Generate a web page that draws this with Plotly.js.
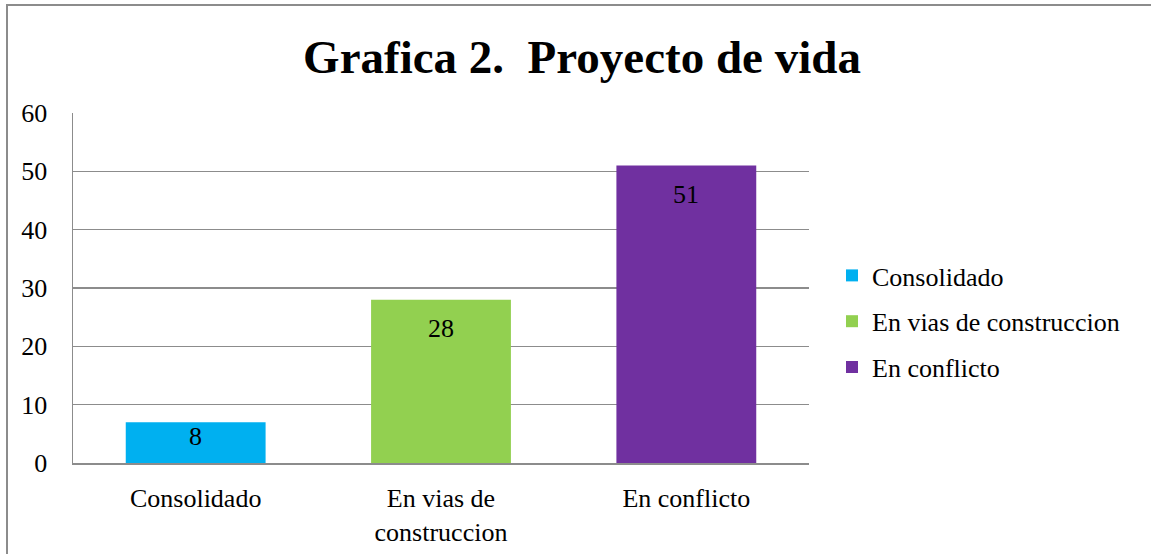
<!DOCTYPE html>
<html>
<head>
<meta charset="utf-8">
<script src="https://cdn.plot.ly/plotly-3.0.1.min.js"></script>
<style>html,body{margin:0;padding:0;background:#fff;}#chart{width:1151px;height:554px;}</style>
</head>
<body>
<div id="chart"></div>
<script>
var categories = ['Consolidado', 'En vias de<br>construccion', 'En conflicto'];
var seriesNames = ['Consolidado', 'En vias de construccion', 'En conflicto'];
var values = [7, 28, 51];
var dataLabels = ['8', '28', '51'];
var colors = ['#00B0F0', '#92D050', '#7030A0'];
var yTicks = [0, 10, 20, 30, 40, 50, 60];

var FONT = 'Liberation Serif';
var W = 1151, H = 554;
var M = {l: 73, r: 342, t: 113, b: 91};
var plotW = W - M.l - M.r, plotH = H - M.t - M.b;
var yMax = 60;

function pxX(px) { return (px - M.l) / plotW; }
function pxY(py) { return (H - M.b - py) / plotH; }

var traces = categories.map(function (c, i) {
  return {
    type: 'bar',
    x: [c],
    y: [values[i]],
    name: seriesNames[i],
    legendgroup: 'g' + i,
    marker: {color: colors[i], line: {width: 0}},
    hoverinfo: 'none'
  };
});

var annotations = categories.map(function (c, i) {
  var barPx = values[i] * plotH / yMax;
  return {
    x: c, y: values[i], xref: 'x', yref: 'y',
    text: dataLabels[i], showarrow: false,
    yanchor: 'middle', xanchor: 'center',
    yshift: -Math.min(29, barPx / 2 - 6),
    font: {family: FONT, size: 26, color: '#000'}
  };
});

var layout = {
  width: W, height: H,
  margin: M,
  font: {family: FONT, color: '#000'},
  paper_bgcolor: '#fff', plot_bgcolor: '#fff',
  barmode: 'overlay',
  bargap: 0.43,
  showlegend: true,
  title: {
    text: '<b>Grafica 2.\u00a0 Proyecto de vida</b>',
    x: 582 / W, xref: 'container', xanchor: 'center',
    y: 1 - 57 / H, yref: 'container', yanchor: 'middle',
    font: {family: FONT, size: 47, color: '#000'}
  },
  xaxis: {
    type: 'category',
    showgrid: false, zeroline: false,
    showline: true, linecolor: '#8c8c8c', linewidth: 1.5,
    ticks: '', ticklabelstandoff: 11,
    tickfont: {family: FONT, size: 26, color: '#000'},
    fixedrange: true
  },
  yaxis: {
    range: [0, yMax],
    tickvals: yTicks,
    ticktext: yTicks.map(String),
    showgrid: true, gridcolor: '#8c8c8c', gridwidth: 1.5,
    zeroline: false,
    showline: true, linecolor: '#8c8c8c', linewidth: 1.5,
    ticks: '', ticklabelstandoff: 19,
    tickfont: {family: FONT, size: 26, color: '#000'},
    fixedrange: true
  },
  legend: {
    x: pxX(832), xanchor: 'left',
    y: pxY(252), yanchor: 'top',
    traceorder: 'grouped',
    tracegroupgap: 9,
    font: {family: FONT, size: 26, color: '#000'},
    bgcolor: 'rgba(0,0,0,0)',
    itemclick: false, itemdoubleclick: false
  },
  annotations: annotations,
  shapes: [{
    type: 'rect', xref: 'paper', yref: 'paper',
    x0: pxX(7), x1: pxX(1200), y0: pxY(600), y1: pxY(5),
    line: {color: '#8c8c8c', width: 2}, fillcolor: 'rgba(0,0,0,0)', layer: 'above'
  }]
};

Plotly.newPlot('chart', traces, layout, {displayModeBar: false, staticPlot: true});
</script>
</body>
</html>
